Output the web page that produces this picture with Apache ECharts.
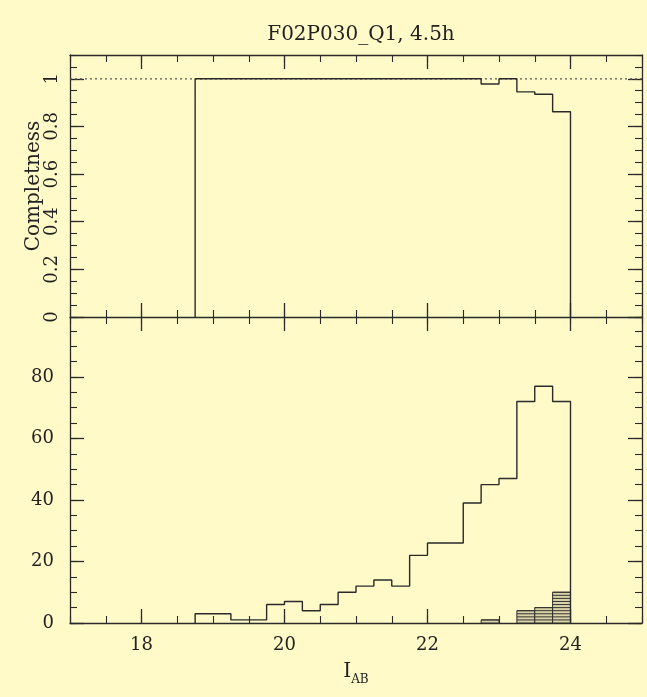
<!DOCTYPE html>
<html>
<head>
<meta charset="utf-8">
<script src="https://cdn.jsdelivr.net/npm/echarts@6/dist/echarts.min.js"></script>
<style>
html,body{margin:0;padding:0;background:#fffac8;}
#chart{width:647px;height:697px;}
</style>
</head>
<body>
<div id="chart"></div>
<script>
// ---- data ----
const titleText = 'F02P030_Q1, 4.5h';
const binEdges = [18.75, 19.0, 19.25, 19.5, 19.75, 20.0, 20.25, 20.5, 20.75, 21.0, 21.25,
                  21.5, 21.75, 22.0, 22.25, 22.5, 22.75, 23.0, 23.25, 23.5, 23.75, 24.0];
const counts = [3, 3, 1, 1, 6, 7, 4, 6, 10, 12, 14, 12, 22, 26, 26, 39, 45, 47, 72, 77, 72];
const missed = [0, 0, 0, 0, 0, 0, 0, 0, 0, 0, 0, 0, 0, 0, 0, 0, 1, 0, 4, 5, 10];
const completeness = [1, 1, 1, 1, 1, 1, 1, 1, 1, 1, 1, 1, 1, 1, 1, 1, 0.978, 1, 0.945, 0.935, 0.862];
const xTicks = [18, 20, 22, 24];
const yTopTicks = [0, 0.2, 0.4, 0.6, 0.8, 1];
const yBotTicks = [0, 20, 40, 60, 80];
const referenceLevel = 1;

// ---- build step outlines ----
function stepData(vals) {
  const d = [[binEdges[0], 0]];
  for (let i = 0; i < vals.length; i++) d.push([binEdges[i], vals[i]]);
  d.push([binEdges[binEdges.length - 1], 0]);
  return d;
}
const hatchData = [];
for (let i = 0; i < missed.length; i++) {
  if (missed[i] > 0) hatchData.push([binEdges[i], binEdges[i + 1], missed[i]]);
}

const FONT = 'DejaVu Serif';
const INK = '#2a2a2a';
const XMIN = 17, XMAX = 25;

function xAx(grid, pos, major, labels, showLine) {
  const a = {
    type: 'value', gridIndex: grid, position: pos, min: XMIN, max: XMAX,
    splitLine: {show: false},
    axisLine: {show: !!showLine, onZero: false, lineStyle: {color: INK, width: 1.3}},
    axisLabel: {show: false}
  };
  if (major) {
    a.axisTick = {show: true, inside: true, length: 14, customValues: xTicks, lineStyle: {color: INK, width: 1.3}};
    if (labels) {
      a.axisLabel = {show: true, customValues: xTicks, fontFamily: FONT, fontSize: 18, color: '#222', margin: 13};
      a.name = '{i|I}{s|AB}';
      a.nameLocation = 'middle';
      a.nameGap = 37;
      a.nameMoveOverlap = false;
      a.nameTextStyle = {rich: {
        i: {fontFamily: FONT, fontSize: 20, color: '#222', verticalAlign: 'bottom', lineHeight: 22},
        s: {fontFamily: FONT, fontSize: 12, color: '#222', verticalAlign: 'bottom', lineHeight: 14, padding: [0,0,-4,0]}
      }};
    }
  } else {
    a.interval = 0.5;
    a.axisTick = {show: true, inside: true, length: 7, lineStyle: {color: INK, width: 1.1}};
  }
  return a;
}
function yAx(grid, pos, major, minV, maxV, ticks, minorStep, labelCfg, name) {
  const a = {
    type: 'value', gridIndex: grid, position: pos, min: minV, max: maxV,
    splitLine: {show: false},
    axisLine: {show: major, onZero: false, lineStyle: {color: INK, width: 1.3}},
    axisLabel: {show: false}
  };
  if (major) {
    a.axisTick = {show: true, inside: true, length: 14, customValues: ticks, lineStyle: {color: INK, width: 1.3}};
    if (labelCfg) {
      a.axisLabel = Object.assign({show: true, customValues: ticks, fontFamily: FONT, fontSize: 18, color: '#222'}, labelCfg);
    }
    if (name) {
      a.name = name;
      a.nameLocation = 'middle';
      a.nameRotate = 90;
      a.nameGap = 26;
      a.nameMoveOverlap = false;
      a.nameTextStyle = {fontFamily: FONT, fontSize: 20, color: '#222'};
    }
  } else {
    a.interval = minorStep;
    a.axisTick = {show: true, inside: true, length: 7, lineStyle: {color: INK, width: 1.1}};
  }
  return a;
}

const chart = echarts.init(document.getElementById('chart'), null, {renderer: 'canvas'});
chart.setOption({
  backgroundColor: '#fffac8',
  animation: false,
  title: {
    text: titleText, left: 356, top: 20, textAlign: 'center',
    textStyle: {fontFamily: FONT, fontSize: 20, fontWeight: 'normal', color: '#222'}
  },
  grid: [
    {left: 70, right: 5, top: 55, height: 262},
    {left: 70, right: 5, top: 317, height: 306}
  ],
  xAxis: [
    xAx(0, 'bottom', true, false, false), xAx(0, 'bottom', false),
    xAx(0, 'top', true, false, true), xAx(0, 'top', false),
    xAx(1, 'bottom', true, true, true), xAx(1, 'bottom', false),
    xAx(1, 'top', true, false, true), xAx(1, 'top', false)
  ],
  yAxis: [
    yAx(0, 'left', true, 0, 1.1, yTopTicks, 0, {rotate: 90, margin: 9}, 'Completness'),
    yAx(0, 'left', false, 0, 1.1, null, 0.05),
    yAx(0, 'right', true, 0, 1.1, yTopTicks, 0),
    yAx(0, 'right', false, 0, 1.1, null, 0.05),
    yAx(1, 'left', true, 0, 99.5, yBotTicks, 0, {margin: 16}),
    yAx(1, 'left', false, 0, 99.5, null, 5),
    yAx(1, 'right', true, 0, 99.5, yBotTicks, 0),
    yAx(1, 'right', false, 0, 99.5, null, 5)
  ],
  series: [
    {
      type: 'line', xAxisIndex: 0, yAxisIndex: 0, symbol: 'none', silent: true, z: 1,
      data: [[XMIN, referenceLevel], [XMAX, referenceLevel]],
      lineStyle: {color: '#555', width: 1.2, type: [2, 3]}
    },
    {
      type: 'line', xAxisIndex: 0, yAxisIndex: 0, symbol: 'none', step: 'end', silent: true, z: 3,
      data: stepData(completeness),
      lineStyle: {color: INK, width: 1.4}
    },
    {
      type: 'line', xAxisIndex: 4, yAxisIndex: 4, symbol: 'none', step: 'end', silent: true, z: 3,
      data: stepData(counts),
      lineStyle: {color: INK, width: 1.4}
    },
    {
      type: 'custom', xAxisIndex: 4, yAxisIndex: 4, silent: true, z: 2,
      encode: {x: [0, 1], y: 2},
      data: hatchData,
      renderItem: function (params, api) {
        const x0 = api.value(0), x1 = api.value(1), v = api.value(2);
        const p0 = api.coord([x0, 0]), p1 = api.coord([x1, v]);
        const children = [{
          type: 'rect',
          shape: {x: p0[0], y: p1[1], width: p1[0] - p0[0], height: p0[1] - p1[1]},
          style: {fill: '#d9d3a6', stroke: INK, lineWidth: 1}
        }];
        for (let k = 1; k <= v; k++) {
          const yy = api.coord([x0, k])[1];
          children.push({type: 'line', shape: {x1: p0[0], y1: yy, x2: p1[0], y2: yy},
            style: {stroke: '#333', lineWidth: 1}});
        }
        return {type: 'group', children: children};
      }
    }
  ]
});
</script>
</body>
</html>
